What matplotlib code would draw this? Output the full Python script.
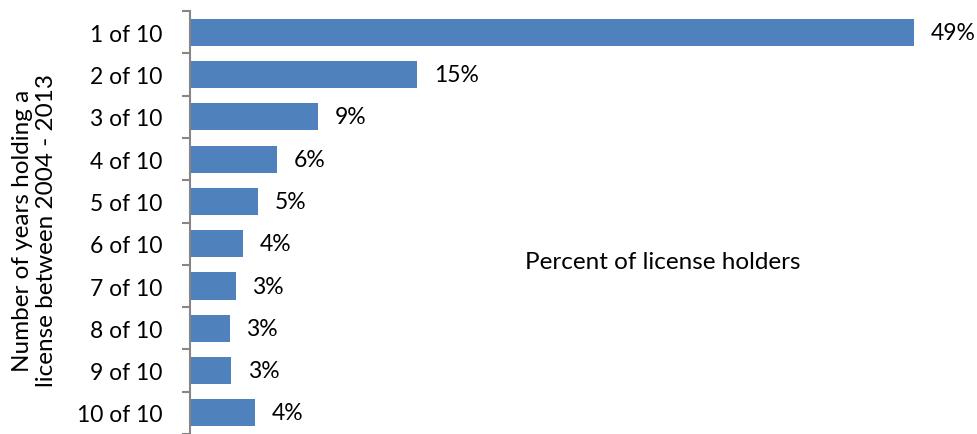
import matplotlib.pyplot as plt
import numpy as np

plt.rcParams['font.family'] = ['Lato', 'DejaVu Sans']

categories = ['1 of 10', '2 of 10', '3 of 10', '4 of 10', '5 of 10',
              '6 of 10', '7 of 10', '8 of 10', '9 of 10', '10 of 10']
values = [49.0, 15.4, 8.7, 5.9, 4.6, 3.6, 3.1, 2.7, 2.8, 4.4]
labels = ['49%', '15%', '9%', '6%', '5%', '4%', '3%', '3%', '3%', '4%']

fig = plt.figure(figsize=(9.78, 4.35), dpi=100)
ax = fig.add_axes([0.194, 0.0, 0.756, 0.972])

y = np.arange(len(categories))
ax.barh(y, values, height=0.64, color='#4F81BD')
ax.set_ylim(len(categories) - 0.5, -0.5)
ax.set_xlim(0, 50)

for yi, v, lab in zip(y, values, labels):
    ax.annotate(lab, (v, yi), xytext=(12, 0), textcoords='offset points',
                ha='left', va='center', fontsize=16.5, color='black')

# category labels at centres, tick marks between categories
ax.set_yticks(y)
ax.set_yticklabels(categories, fontsize=16.5)
ax.tick_params(axis='y', which='major', length=0, pad=19.5)
ax.set_yticks(np.arange(-0.5, len(categories), 1.0), minor=True)
ax.tick_params(axis='y', which='minor', length=6, width=1.5, color='#868686')

ax.set_xticks([])
for s in ['top', 'right', 'bottom']:
    ax.spines[s].set_visible(False)
ax.spines['left'].set_color('#868686')
ax.spines['left'].set_linewidth(1.5)

ax.text(0.64, 0.407, 'Percent of license holders', transform=ax.transAxes,
        ha='center', va='center', fontsize=17.5)
fig.text(0.035, 0.469, 'Number of years holding a\nlicense between 2004 - 2013',
         rotation=90, ha='center', va='center', fontsize=17.5, linespacing=1.2)

fig.savefig('out.png', dpi=100)
